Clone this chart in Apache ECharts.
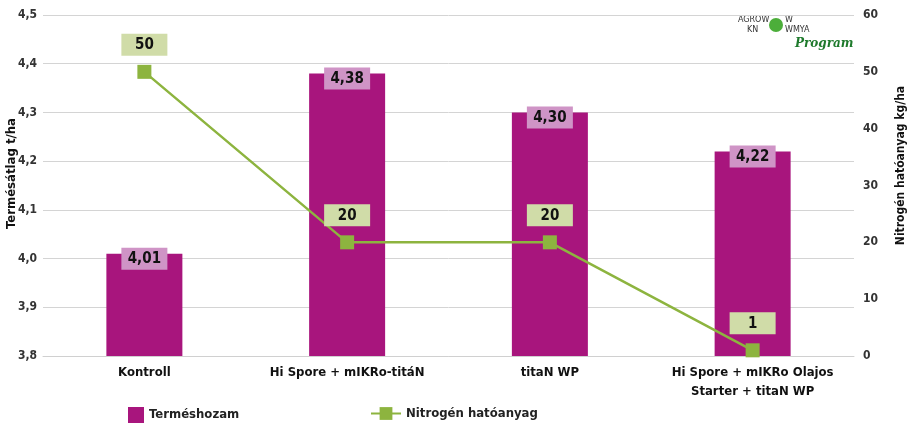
<!DOCTYPE html>
<html><head><meta charset="utf-8">
<script src="https://cdn.jsdelivr.net/npm/echarts@6/dist/echarts.min.js"></script>
<style>html,body{margin:0;padding:0;background:#fff}#c{width:911px;height:428px}</style>
</head><body><div id="c"></div>
<script>
const categories = ['Kontroll', 'Hi Spore + mIKRo-titáN', 'titaN WP', 'Hi Spore + mIKRo Olajos\nStarter + titaN WP'];
const yieldValues = [4.01, 4.38, 4.30, 4.22];
const nitrogenValues = [50, 20, 20, 1];
const leftTicks = {min: 3.8, max: 4.5, interval: 0.1};
const rightTicks = {min: 0, max: 60, interval: 10};

const FONT = '"DejaVu Sans Condensed", "DejaVu Sans", sans-serif';
const chart = echarts.init(document.getElementById('c'));
const fmt = v => v.toFixed(2).replace('.', ',');
chart.setOption({
  animation: false,
  textStyle: {fontFamily: FONT},
  grid: {left: 43, right: 57, top: 15, bottom: 72, containLabel: false, outerBoundsMode: 'none'},
  legend: [
    {data: ['Terméshozam'], left: 123, top: 402, icon: 'rect', itemWidth: 16, itemHeight: 16, itemGap: 10,
     textStyle: {fontFamily: FONT, fontWeight: 'bold', fontSize: 13, color: '#222'}},
    {data: ['Nitrogén hatóanyag'], left: 365, top: 402, itemWidth: 30, itemHeight: 16,
     textStyle: {fontFamily: FONT, fontWeight: 'bold', fontSize: 13, color: '#222'}}
  ],
  xAxis: {
    type: 'category', data: categories,
    axisLine: {lineStyle: {color: '#d0d0d0'}}, axisTick: {show: false},
    axisLabel: {interval: 0, color: '#111', fontWeight: 'bold', fontSize: 13, fontFamily: FONT, margin: 7, lineHeight: 19}
  },
  yAxis: [
    {type: 'value', min: leftTicks.min, max: leftTicks.max, interval: leftTicks.interval,
     name: 'Termésátlag t/ha', nameLocation: 'middle', nameGap: 25, nameRotate: 90, nameMoveOverlap: false,
     nameTextStyle: {fontFamily: FONT, fontWeight: 'bold', fontSize: 13, color: '#111', padding: [0, 0, 0, 24]},
     axisLabel: {formatter: v => v.toFixed(1).replace('.', ','), color: '#333', fontWeight: 'bold', fontSize: 12, fontFamily: FONT, margin: 6},
     splitLine: {lineStyle: {color: '#d4d4d4', width: 1}}, axisLine: {show: false}, axisTick: {show: false}},
    {type: 'value', min: rightTicks.min, max: rightTicks.max, interval: rightTicks.interval,
     name: 'Nitrogén hatóanyag kg/ha', nameLocation: 'middle', nameGap: 41, nameRotate: 90, nameMoveOverlap: false,
     nameTextStyle: {fontFamily: FONT, fontWeight: 'bold', fontSize: 12, color: '#111', padding: [0, 0, 0, 40]},
     axisLabel: {color: '#333', fontWeight: 'bold', fontSize: 12, fontFamily: FONT, margin: 9},
     splitLine: {show: false}, axisLine: {show: false}, axisTick: {show: false}}
  ],
  series: [
    {name: 'Terméshozam', type: 'bar', data: yieldValues, barWidth: 76, yAxisIndex: 0,
     itemStyle: {color: '#a8157d'},
     label: {show: true, position: 'insideTop', offset: [0, -11], formatter: p => fmt(p.value),
       backgroundColor: '#cf94c6', padding: [4, 5, 3, 5], color: '#111', fontWeight: 'bold', fontSize: 15, fontFamily: FONT, width: 36, align: 'center'}},
    {name: 'Nitrogén hatóanyag', type: 'line', data: nitrogenValues, yAxisIndex: 1,
     symbol: 'rect', symbolSize: 14, lineStyle: {color: '#8db43f', width: 2.5},
     itemStyle: {color: '#8db43f'},
     label: {show: true, position: 'top', distance: 9,
       backgroundColor: '#d0dca8', padding: [4, 5, 3, 5], color: '#111', fontWeight: 'bold', fontSize: 15, fontFamily: FONT, width: 36, align: 'center'}}
  ],
  graphic: [
    {type: 'text', left: 738, top: 16, style: {text: 'AGROW', fill: '#333', font: '8px "DejaVu Sans"'}},
    {type: 'circle', shape: {cx: 776, cy: 25, r: 7}, style: {fill: '#4cae3a'}},
    {type: 'text', left: 785, top: 16, style: {text: 'W', fill: '#333', font: '8px "DejaVu Sans"'}},
    {type: 'text', left: 747, top: 26, style: {text: 'KN', fill: '#333', font: '8px "DejaVu Sans"'}},
    {type: 'text', left: 785, top: 26, style: {text: 'WMYA', fill: '#333', font: '8px "DejaVu Sans"'}},
    {type: 'text', left: 795, top: 38, style: {text: 'Program', fill: '#1e7a2c', font: 'italic bold 12px "DejaVu Serif"'}}
  ]
});
</script></body></html>
